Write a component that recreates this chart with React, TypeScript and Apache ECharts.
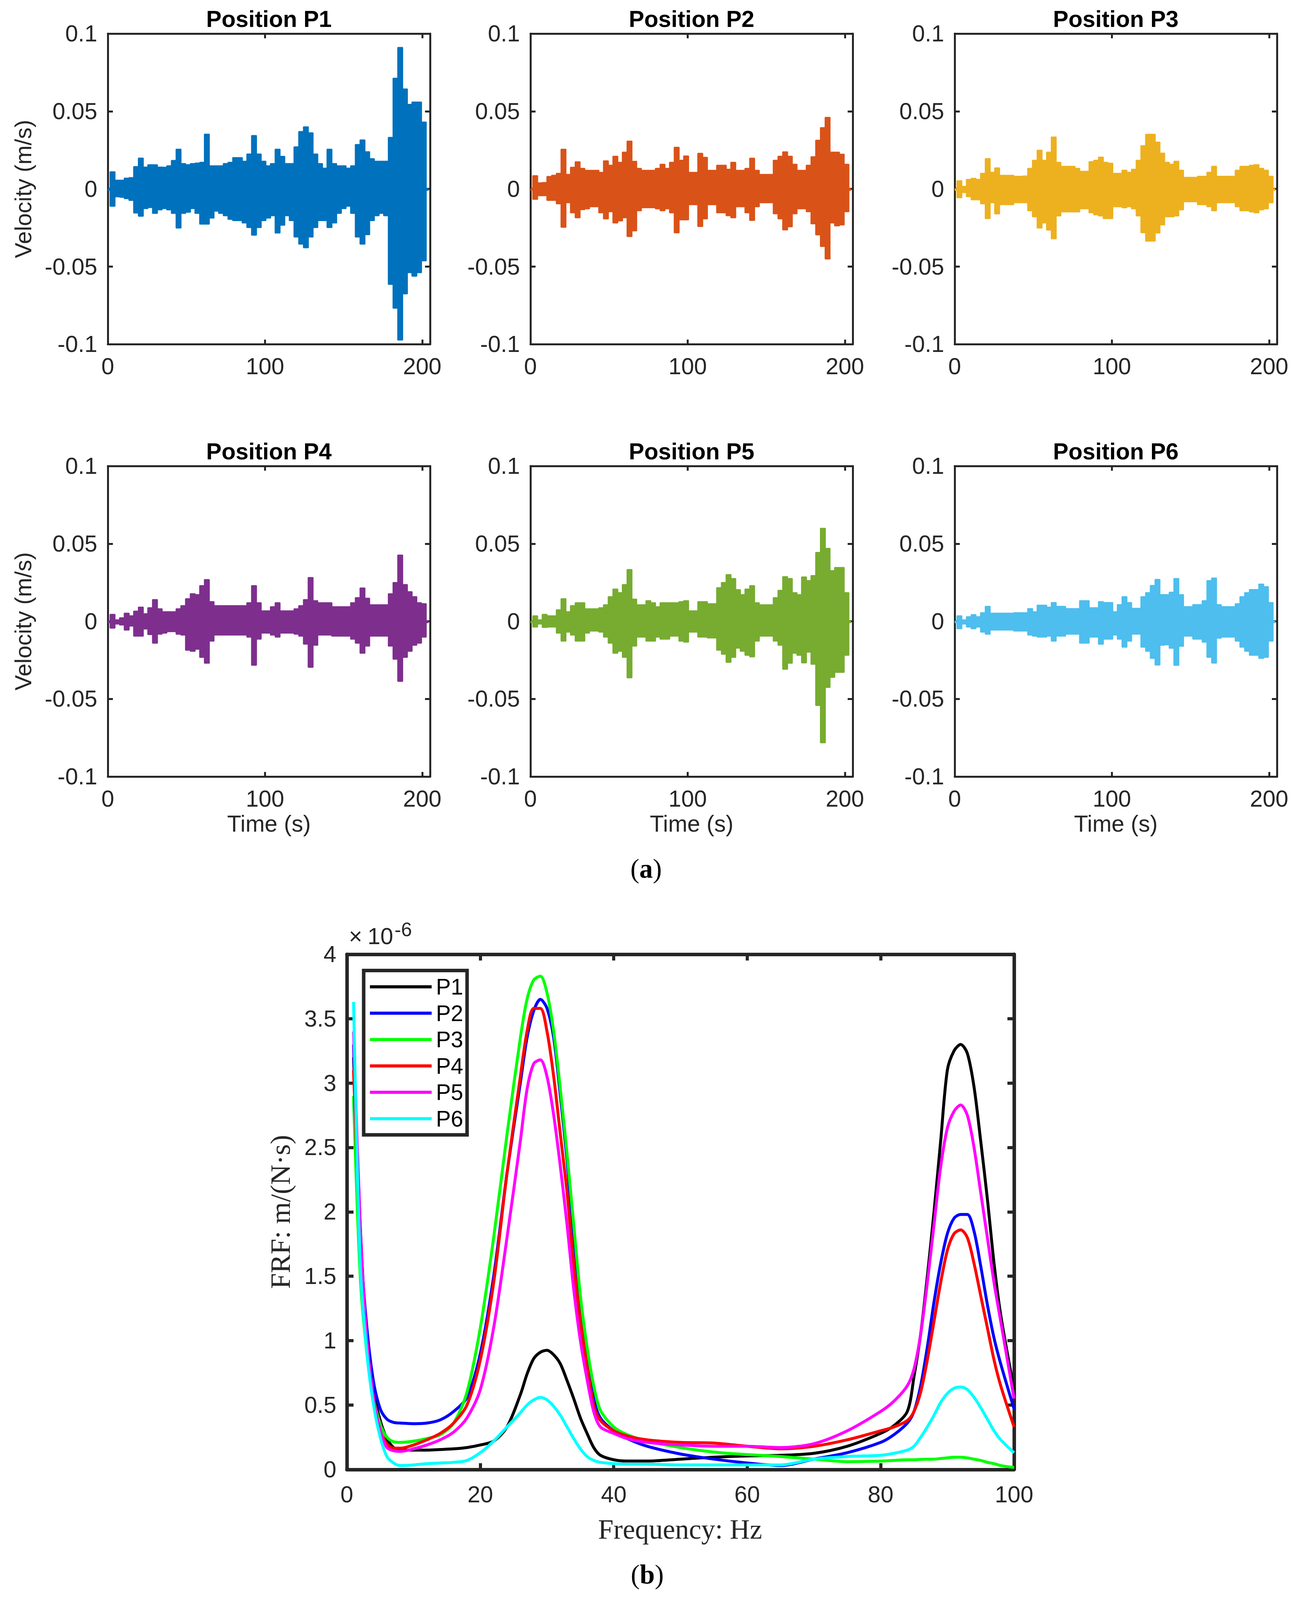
import React, { useEffect, useRef } from "react";
import * as echarts from "echarts";

// time signals: envelope every 3 s (m/s)
const timeS = [0, 3, 6, 9, 12, 15, 18, 21, 24, 27, 30, 33, 36, 39, 42, 45, 48, 51, 54, 57, 60, 63, 66, 69, 72, 75, 78, 81, 84, 87, 90, 93, 96, 99, 102, 105, 108, 111, 114, 117, 120, 123, 126, 129, 132, 135, 138, 141, 144, 147, 150, 153, 156, 159, 162, 165, 168, 171, 174, 177, 180, 183, 186, 189, 192, 195, 198, 201, 204];

const p1Upper = [0, .0110, .0056, .0056, .0069, .0072, .0143, .0198, .0140, .0155, .0155, .0140, .0139, .0148, .0183, .0255, .0163, .0155, .0163, .0166, .0171, .0352, .0148, .0148, .0148, .0163, .0171, .0201, .0201, .0178, .0224, .0343, .0224, .0178, .0148, .0163, .0255, .0209, .0163, .0163, .0270, .0369, .0399, .0361, .0224, .0163, .0133, .0255, .0163, .0148, .0148, .0133, .0148, .0285, .0315, .0239, .0194, .0178, .0178, .0178, .0331, .0712, .0910, .0643, .0544, .0559, .0559, .0430, 0];
const p1Lower = [0, -.0111, -.0050, -.0053, -.0062, -.0073, -.0154, -.0175, -.0126, -.0119, -.0157, -.0134, -.0126, -.0134, -.0157, -.0251, -.0157, -.0149, -.0126, -.0157, -.0226, -.0226, -.0187, -.0142, -.0157, -.0172, -.0195, -.0203, -.0203, -.0218, -.0248, -.0297, -.0248, -.0203, -.0187, -.0172, -.0283, -.0233, -.0172, -.0203, -.0309, -.0355, -.0378, -.0309, -.0248, -.0203, -.0203, -.0248, -.0218, -.0157, -.0126, -.0111, -.0157, -.0309, -.0355, -.0294, -.0203, -.0172, -.0157, -.0172, -.0614, -.0767, -.0972, -.0675, -.0538, -.0561, -.0538, -.0462, 0];

const p2Upper = [0, .0085, .0039, .0041, .0080, .0087, .0100, .0255, .0093, .0139, .0174, .0132, .0119, .0119, .0119, .0106, .0180, .0152, .0210, .0171, .0236, .0307, .0177, .0132, .0119, .0119, .0119, .0132, .0158, .0132, .0171, .0268, .0184, .0212, .0106, .0106, .0229, .0203, .0119, .0119, .0152, .0152, .0126, .0171, .0119, .0119, .0132, .0197, .0119, .0093, .0093, .0093, .0184, .0210, .0238, .0210, .0158, .0119, .0119, .0152, .0207, .0313, .0394, .0460, .0236, .0236, .0223, .0158, 0];
const p2Lower = [0, -.0066, -.0043, -.0043, -.0073, -.0073, -.0095, -.0246, -.0088, -.0153, -.0185, -.0133, -.0127, -.0114, -.0114, -.0153, -.0192, -.0146, -.0218, -.0205, -.0185, -.0306, -.0269, -.0140, -.0120, -.0120, -.0120, -.0127, -.0140, -.0127, -.0153, -.0282, -.0198, -.0198, -.0101, -.0101, -.0241, -.0192, -.0101, -.0101, -.0153, -.0153, -.0172, -.0185, -.0114, -.0114, -.0153, -.0202, -.0114, -.0088, -.0088, -.0088, -.0159, -.0192, -.0263, -.0243, -.0159, -.0127, -.0127, -.0146, -.0224, -.0295, -.0370, -.0450, -.0218, -.0237, -.0231, -.0146, 0];

const p3Upper = [0, .0052, .0016, .0061, .0068, .0061, .0100, .0195, .0107, .0135, .0087, .0087, .0087, .0081, .0081, .0083, .0132, .0184, .0249, .0184, .0236, .0334, .0171, .0145, .0145, .0145, .0132, .0113, .0113, .0175, .0184, .0204, .0171, .0165, .0100, .0100, .0120, .0107, .0126, .0184, .0278, .0351, .0351, .0301, .0230, .0171, .0158, .0178, .0120, .0074, .0074, .0074, .0081, .0081, .0107, .0145, .0081, .0081, .0081, .0081, .0120, .0145, .0145, .0152, .0156, .0132, .0120, .0081, 0];
const p3Lower = [0, -.0056, -.0023, -.0049, -.0069, -.0069, -.0095, -.0190, -.0088, -.0160, -.0101, -.0101, -.0101, -.0088, -.0088, -.0088, -.0140, -.0179, -.0251, -.0218, -.0264, -.0320, -.0173, -.0147, -.0147, -.0147, -.0147, -.0127, -.0127, -.0153, -.0166, -.0173, -.0190, -.0190, -.0114, -.0114, -.0121, -.0114, -.0127, -.0173, -.0281, -.0335, -.0335, -.0283, -.0231, -.0179, -.0179, -.0173, -.0134, -.0082, -.0082, -.0082, -.0101, -.0101, -.0114, -.0140, -.0088, -.0088, -.0088, -.0088, -.0114, -.0140, -.0140, -.0147, -.0153, -.0134, -.0127, -.0088, 0];

const p4Upper = [0, .0044, .0009, .0022, .0052, .0035, .0065, .0091, .0048, .0087, .0139, .0080, .0061, .0061, .0061, .0080, .0100, .0145, .0177, .0171, .0229, .0268, .0126, .0100, .0100, .0100, .0100, .0100, .0100, .0100, .0119, .0229, .0119, .0067, .0067, .0093, .0119, .0067, .0067, .0067, .0080, .0100, .0139, .0281, .0132, .0119, .0119, .0119, .0093, .0093, .0093, .0093, .0119, .0152, .0214, .0148, .0106, .0106, .0106, .0106, .0177, .0249, .0426, .0236, .0190, .0158, .0119, .0113, 0];
const p4Lower = [0, -.0043, -.0017, -.0023, -.0056, -.0030, -.0095, -.0095, -.0049, -.0085, -.0140, -.0082, -.0075, -.0066, -.0066, -.0082, -.0088, -.0185, -.0192, -.0179, -.0231, -.0269, -.0127, -.0088, -.0088, -.0088, -.0088, -.0088, -.0088, -.0088, -.0101, -.0282, -.0114, -.0075, -.0075, -.0088, -.0101, -.0075, -.0075, -.0075, -.0082, -.0095, -.0146, -.0295, -.0153, -.0088, -.0088, -.0088, -.0095, -.0095, -.0095, -.0095, -.0114, -.0140, -.0205, -.0159, -.0095, -.0095, -.0095, -.0095, -.0159, -.0243, -.0386, -.0231, -.0192, -.0153, -.0140, -.0101, 0];

const p5Upper = [0, .0035, .0009, .0044, .0035, .0035, .0074, .0145, .0061, .0100, .0119, .0119, .0080, .0080, .0080, .0087, .0106, .0158, .0207, .0184, .0236, .0333, .0142, .0106, .0106, .0132, .0119, .0093, .0119, .0119, .0119, .0119, .0126, .0132, .0067, .0067, .0126, .0126, .0113, .0113, .0216, .0249, .0300, .0275, .0203, .0171, .0207, .0229, .0119, .0106, .0106, .0106, .0152, .0199, .0287, .0275, .0184, .0171, .0285, .0262, .0294, .0443, .0598, .0469, .0326, .0346, .0346, .0184, 0];
const p5Lower = [0, -.0036, -.0017, -.0039, -.0036, -.0036, -.0075, -.0127, -.0069, -.0088, -.0127, -.0127, -.0075, -.0062, -.0062, -.0069, -.0101, -.0140, -.0205, -.0192, -.0231, -.0363, -.0159, -.0101, -.0101, -.0127, -.0127, -.0101, -.0114, -.0114, -.0095, -.0095, -.0127, -.0133, -.0069, -.0069, -.0101, -.0101, -.0107, -.0107, -.0185, -.0211, -.0263, -.0231, -.0172, -.0192, -.0218, -.0228, -.0127, -.0095, -.0095, -.0095, -.0127, -.0153, -.0308, -.0269, -.0205, -.0218, -.0267, -.0198, -.0276, -.0541, -.0781, -.0425, -.0360, -.0328, -.0328, -.0218, 0];

const p6Upper = [0, .0035, .0009, .0029, .0042, .0029, .0055, .0096, .0052, .0052, .0052, .0052, .0052, .0055, .0055, .0055, .0081, .0061, .0103, .0103, .0091, .0120, .0096, .0096, .0081, .0081, .0081, .0132, .0132, .0087, .0087, .0126, .0120, .0120, .0061, .0107, .0158, .0120, .0083, .0083, .0158, .0184, .0230, .0269, .0171, .0171, .0187, .0275, .0171, .0094, .0094, .0107, .0107, .0132, .0262, .0278, .0107, .0094, .0094, .0094, .0113, .0158, .0184, .0204, .0204, .0239, .0223, .0120, 0];
const p6Lower = [0, -.0047, -.0017, -.0036, -.0047, -.0036, -.0069, -.0082, -.0056, -.0056, -.0056, -.0056, -.0056, -.0062, -.0062, -.0062, -.0088, -.0095, -.0101, -.0101, -.0095, -.0127, -.0095, -.0095, -.0082, -.0082, -.0082, -.0140, -.0140, -.0101, -.0101, -.0147, -.0114, -.0114, -.0088, -.0114, -.0166, -.0127, -.0082, -.0082, -.0166, -.0192, -.0238, -.0281, -.0153, -.0151, -.0173, -.0283, -.0160, -.0095, -.0095, -.0114, -.0114, -.0134, -.0231, -.0268, -.0108, -.0101, -.0101, -.0101, -.0127, -.0166, -.0192, -.0218, -.0218, -.0238, -.0231, -.0127, 0];

// FRF curves, in units of 1e-6 m/(N·s)
const frfFreq = [1, 2, 3, 4, 5, 6, 7, 8, 10, 12, 14, 16, 18, 20, 22, 24, 26, 27, 28, 29, 30, 31, 32, 33, 34, 35, 36, 37, 38, 40, 42, 45, 50, 55, 60, 65, 70, 75, 80, 82, 84, 85, 86, 87, 88, 89, 90, 91, 92, 93, 94, 95, 96, 97, 98, 100];
const frfP1 = [3.2, 1.9, 1.0, 0.6, 0.38, 0.24, 0.17, 0.15, 0.15, 0.15, 0.155, 0.16, 0.17, 0.19, 0.22, 0.33, 0.58, 0.74, 0.86, 0.91, 0.925, 0.89, 0.82, 0.69, 0.55, 0.40, 0.28, 0.17, 0.11, 0.075, 0.065, 0.065, 0.08, 0.095, 0.105, 0.11, 0.125, 0.18, 0.28, 0.34, 0.45, 0.72, 1.05, 1.5, 2.0, 2.55, 3.1, 3.25, 3.3, 3.23, 2.97, 2.55, 2.1, 1.6, 1.2, 0.62];
const frfP2 = [3.3, 1.8, 1.1, 0.68, 0.47, 0.39, 0.365, 0.36, 0.355, 0.36, 0.385, 0.45, 0.56, 0.9, 1.5, 2.3, 3.0, 3.35, 3.56, 3.65, 3.58, 3.35, 2.9, 2.4, 1.8, 1.3, 0.9, 0.55, 0.4, 0.3, 0.24, 0.18, 0.12, 0.08, 0.05, 0.03, 0.08, 0.13, 0.21, 0.27, 0.36, 0.45, 0.65, 0.95, 1.3, 1.6, 1.83, 1.95, 1.98, 1.98, 1.85, 1.58, 1.28, 1.02, 0.82, 0.47];
const frfP3 = [2.9, 1.5, 0.9, 0.55, 0.35, 0.25, 0.215, 0.21, 0.22, 0.24, 0.27, 0.36, 0.6, 1.1, 1.8, 2.6, 3.35, 3.65, 3.8, 3.83, 3.7, 3.4, 2.95, 2.45, 1.9, 1.35, 0.95, 0.65, 0.46, 0.33, 0.27, 0.22, 0.17, 0.135, 0.115, 0.1, 0.08, 0.06, 0.065, 0.07, 0.075, 0.075, 0.078, 0.08, 0.08, 0.085, 0.09, 0.095, 0.095, 0.09, 0.08, 0.07, 0.055, 0.045, 0.03, 0.015];
const frfP4 = [3.1, 1.8, 1.0, 0.55, 0.3, 0.2, 0.165, 0.165, 0.19, 0.23, 0.28, 0.36, 0.5, 0.85, 1.45, 2.3, 3.05, 3.4, 3.58, 3.58, 3.4, 3.05, 2.6, 2.15, 1.6, 1.15, 0.8, 0.5, 0.38, 0.3, 0.26, 0.23, 0.21, 0.205, 0.18, 0.16, 0.18, 0.23, 0.3, 0.33, 0.38, 0.45, 0.6, 0.85, 1.15, 1.45, 1.7, 1.83, 1.86, 1.8, 1.6, 1.35, 1.1, 0.85, 0.65, 0.33];
const frfP5 = [3.4, 1.9, 1.0, 0.55, 0.3, 0.17, 0.145, 0.14, 0.16, 0.19, 0.23, 0.29, 0.4, 0.62, 1.1, 1.8, 2.55, 2.95, 3.15, 3.18, 3.05, 2.75, 2.35, 1.9, 1.4, 1.0, 0.7, 0.45, 0.33, 0.28, 0.24, 0.21, 0.19, 0.18, 0.18, 0.17, 0.2, 0.3, 0.45, 0.53, 0.65, 0.78, 1.05, 1.45, 1.9, 2.35, 2.65, 2.78, 2.83, 2.75, 2.5, 2.15, 1.8, 1.45, 1.15, 0.55];
const frfP6 = [3.63, 1.6, 0.9, 0.5, 0.25, 0.1, 0.05, 0.03, 0.035, 0.045, 0.05, 0.055, 0.07, 0.13, 0.22, 0.33, 0.44, 0.5, 0.54, 0.56, 0.54, 0.49, 0.42, 0.33, 0.24, 0.16, 0.1, 0.07, 0.055, 0.045, 0.04, 0.04, 0.035, 0.035, 0.035, 0.035, 0.08, 0.1, 0.11, 0.125, 0.15, 0.18, 0.25, 0.33, 0.42, 0.52, 0.59, 0.63, 0.64, 0.62, 0.56, 0.48, 0.39, 0.3, 0.23, 0.13];

const signalTitles = ["Position P1", "Position P2", "Position P3", "Position P4", "Position P5", "Position P6"];
const signalColors = ["#0072BD", "#D95319", "#EDB120", "#7E2F8E", "#77AC30", "#4DBEEE"];
const signalUpper = [p1Upper, p2Upper, p3Upper, p4Upper, p5Upper, p6Upper];
const signalLower = [p1Lower, p2Lower, p3Lower, p4Lower, p5Lower, p6Lower];

const frfNames = ["P1", "P2", "P3", "P4", "P5", "P6"];
const frfColors = ["#000000", "#0000FF", "#00FF00", "#FF0000", "#FF00FF", "#00FFFF"];
const frfValues = [frfP1, frfP2, frfP3, frfP4, frfP5, frfP6];

const ink = "#262626";
const sans = "Liberation Sans";
const serif = "Liberation Serif";

const pageW = 3328;
const pageH = 4522;
const panelLefts = [276, 1358, 2444];
const rowTops = [95, 1317];
const panelW = 825;
const panelH = 878;

const App: React.FC = () => {
  const chartRef = useRef<HTMLDivElement>(null);
  // the browser only shows so much height; squeeze the layout vertically to fit
  const ky = Math.min(1, (window.innerHeight || pageH) / pageH);
  const fs = 0.5 + 0.5 * ky;

  useEffect(() => {
    document.body.style.margin = "0";
    if (!chartRef.current) return;
    const chart = echarts.init(chartRef.current, undefined, { renderer: "svg" });
    const Y = (v: number) => v * ky;
    const F = (v: number) => Math.round(v * fs);

    const grids: any[] = [];
    const xAxes: any[] = [];
    const yAxes: any[] = [];
    const series: any[] = [];
    const graphics: any[] = [];

    const line = (w: number) => ({ onZero: false, lineStyle: { color: ink, width: w } });
    const tick = (len: number, w: number) => ({ inside: true, length: len, lineStyle: { color: ink, width: w } });

    signalTitles.forEach((title, i) => {
      const left = panelLefts[i % 3];
      const top = rowTops[Math.floor(i / 3)];
      grids.push({ left, top: Y(top), width: panelW, height: Y(panelH) });

      const xBase = {
        type: "value", gridIndex: i, min: 0, max: 205, interval: 100,
        axisLine: line(5), axisTick: tick(12, 5), splitLine: { show: false },
      };
      xAxes.push({
        ...xBase, position: "bottom",
        axisLabel: {
          fontSize: F(62), fontFamily: sans, color: ink, margin: Y(30),
          formatter: (v: number) => (v % 100 === 0 ? String(v) : ""),
        },
      });
      xAxes.push({ ...xBase, position: "top", axisLabel: { show: false } });

      const yBase = {
        type: "value", gridIndex: i, min: -0.1, max: 0.1, interval: 0.05,
        axisLine: line(5), axisTick: tick(13, 5), splitLine: { show: false },
      };
      yAxes.push({
        ...yBase, position: "left",
        axisLabel: { fontSize: F(62), fontFamily: sans, color: ink, margin: 27 },
      });
      yAxes.push({ ...yBase, position: "right", axisLabel: { show: false } });

      // upper envelope filled down to just below zero (no seam), lower envelope filled up to zero
      [
        { vals: signalUpper[i], origin: -0.0012 },
        { vals: signalLower[i], origin: 0 },
      ].forEach(({ vals, origin }) => {
        series.push({
          type: "line", xAxisIndex: 2 * i, yAxisIndex: 2 * i,
          data: timeS.map((t, k) => [t, vals[k]]),
          step: "middle", symbol: "none",
          lineStyle: { color: signalColors[i], width: 3 },
          areaStyle: { color: signalColors[i], opacity: 1, origin },
        });
      });

      graphics.push({
        type: "text", x: left + panelW / 2, y: Y(top - 41),
        style: { text: title, fontSize: F(62), fontWeight: "bold", fontFamily: sans, fill: "#000", align: "center", verticalAlign: "middle" },
      });
      if (i >= 3) {
        graphics.push({
          type: "text", x: left + panelW / 2, y: Y(2328),
          style: { text: "Time (s)", fontSize: F(62), fontFamily: sans, fill: ink, align: "center", verticalAlign: "middle" },
        });
      }
      if (i % 3 === 0) {
        graphics.push({
          type: "text", x: 60, y: Y(top + panelH / 2), rotation: Math.PI / 2,
          style: { text: "Velocity (m/s)", fontSize: F(62), fontFamily: sans, fill: ink, align: "center", verticalAlign: "middle" },
        });
      }
    });

    // FRF panel
    const fg = 6;
    grids.push({ left: 888, top: Y(2697), width: 1708, height: Y(1456) });
    const fxBase = {
      type: "value", gridIndex: fg, min: 0, max: 100, interval: 20,
      axisLine: line(9), axisTick: tick(16, 8), splitLine: { show: false },
    };
    xAxes.push({ ...fxBase, position: "bottom", axisLabel: { fontSize: F(62), fontFamily: sans, color: ink, margin: Y(38) } });
    xAxes.push({ ...fxBase, position: "top", axisLabel: { show: false } });
    const fyBase = {
      type: "value", gridIndex: fg, min: 0, max: 4, interval: 0.5,
      axisLine: line(9), axisTick: tick(17, 8), splitLine: { show: false },
    };
    yAxes.push({ ...fyBase, position: "left", axisLabel: { fontSize: F(62), fontFamily: sans, color: ink, margin: 27 } });
    yAxes.push({ ...fyBase, position: "right", axisLabel: { show: false } });

    frfNames.forEach((name, i) => {
      series.push({
        name, type: "line", xAxisIndex: 2 * fg, yAxisIndex: 2 * fg,
        data: frfFreq.map((f, k) => [f, frfValues[i][k]]),
        smooth: 0.3, symbol: "none",
        lineStyle: { color: frfColors[i], width: 7.5 },
        itemStyle: { color: frfColors[i] },
      });
    });

    const richLabel = (letter: string) => ({
      text: `{n|(}{b|${letter}}{n|)}`, align: "center", verticalAlign: "middle",
      rich: {
        n: { fontSize: F(72), fontFamily: serif, fill: "#000" },
        b: { fontSize: F(72), fontFamily: serif, fontWeight: "bold", fill: "#000" },
      },
    });

    graphics.push(
      {
        type: "text", x: 893, y: Y(2679),
        style: { text: "×", fontSize: F(62), fontFamily: sans, fill: ink, align: "left", verticalAlign: "bottom" },
      },
      {
        type: "text", x: 941, y: Y(2679),
        style: { text: "10", fontSize: F(62), fontFamily: sans, fill: ink, align: "left", verticalAlign: "bottom" },
      },
      {
        type: "text", x: 1010, y: Y(2628),
        style: { text: "-6", fontSize: F(52), fontFamily: sans, fill: ink, align: "left", verticalAlign: "middle" },
      },
      {
        type: "text", x: 718, y: Y(3425), rotation: Math.PI / 2,
        style: { text: "FRF: m/(N·s)", fontSize: F(76), fontFamily: serif, fill: ink, align: "center", verticalAlign: "middle" },
      },
      {
        type: "text", x: 1741, y: Y(4322),
        style: { text: "Frequency: Hz", fontSize: F(74), fontFamily: serif, fill: ink, align: "center", verticalAlign: "middle" },
      },
      { type: "text", x: 1654, y: Y(2455), style: richLabel("a") },
      { type: "text", x: 1657, y: Y(4450), style: richLabel("b") }
    );

    const rowStep = Y(74.5);
    const textH = F(60);

    chart.setOption({
      animation: false,
      backgroundColor: "#ffffff",
      grid: grids,
      xAxis: xAxes,
      yAxis: yAxes,
      series,
      legend: {
        data: frfNames,
        orient: "vertical",
        left: 931,
        top: Y(2743),
        padding: [Y(2789) - Y(2743) - textH / 2, 10, Y(3207) - Y(3161) - textH / 2, 16],
        itemGap: rowStep - textH,
        icon: "rect",
        itemWidth: 158,
        itemHeight: 8,
        borderColor: ink,
        borderWidth: 9,
        backgroundColor: "#fff",
        textStyle: { fontSize: textH, fontFamily: sans, color: "#000", lineHeight: textH, padding: [0, 0, 0, 6] },
      },
      graphic: graphics,
    });

    return () => {
      chart.dispose();
    };
  }, [ky, fs]);

  return <div ref={chartRef} style={{ width: pageW, height: Math.floor(pageH * ky) }} />;
};

export default App;
